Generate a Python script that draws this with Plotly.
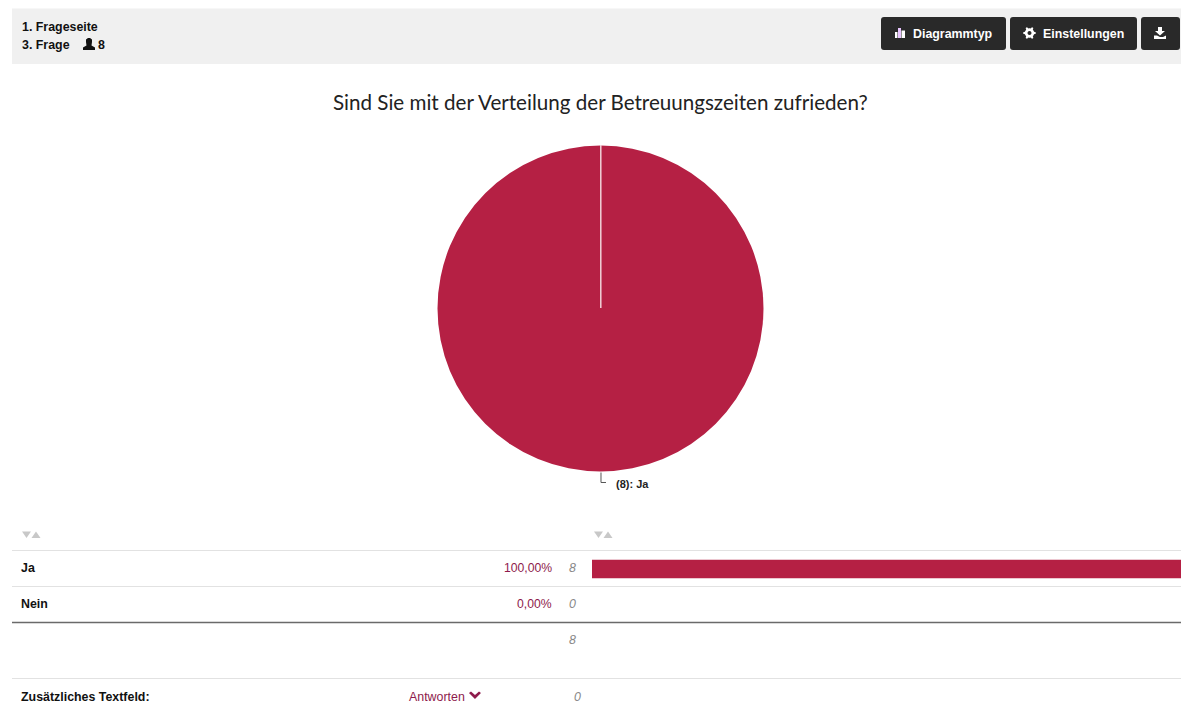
import math
import plotly.graph_objects as go

W, H = 1181, 707

# Survey answers
answers = ["Ja", "Nein"]
counts = [8, 0]
percent = [100.0, 0.0]
total = 8
extra_label = "Zusätzliches Textfeld:"
extra_count = 0
question = "Sind Sie mit der Verteilung der Betreuungszeiten zufrieden?"

RED = "#B52044"
LINK = "#8E1B4C"
FONT = "Liberation Sans, Arial, sans-serif"


def fx(x):
    return x / W


def fy(y):
    return 1 - y / H


def P(x, y):
    return f"{fx(x):.5f},{fy(y):.5f}"


def poly(points):
    return "M" + " L".join(P(x, y) for x, y in points) + " Z"


shapes = []


def rect(x0, y0, x1, y1, color):
    shapes.append(dict(type="rect", xref="paper", yref="paper", x0=fx(x0), x1=fx(x1),
                       y0=fy(y0), y1=fy(y1), fillcolor=color, line_width=0, layer="below"))


def hline(y, color, width, x0=12, x1=W):
    shapes.append(dict(type="line", xref="paper", yref="paper", x0=fx(x0), x1=fx(x1),
                       y0=fy(y), y1=fy(y), line=dict(color=color, width=width)))


def path(d, color):
    shapes.append(dict(type="path", xref="paper", yref="paper", path=d,
                       fillcolor=color, line_width=0))


def rounded(x0, y0, x1, y1, r, color):
    d = (f"M{P(x0 + r, y0)} L{P(x1 - r, y0)} Q{P(x1, y0)} {P(x1, y0 + r)} "
         f"L{P(x1, y1 - r)} Q{P(x1, y1)} {P(x1 - r, y1)} L{P(x0 + r, y1)} "
         f"Q{P(x0, y1)} {P(x0, y1 - r)} L{P(x0, y0 + r)} Q{P(x0, y0)} {P(x0 + r, y0)} Z")
    path(d, color)


def sort_arrows(x):
    path(poly([(x, 531.5), (x + 9, 531.5), (x + 4.5, 538)]), "#C8C8C8")
    path(poly([(x + 9.5, 538), (x + 18.5, 538), (x + 14, 531.5)]), "#C8C8C8")


# Header strip and toolbar buttons
rect(12, 8.5, W, 64, "#F0F0F0")
for x0, x1 in [(881, 1006), (1010, 1137), (1141, 1180)]:
    rounded(x0, 17, x1, 50, 3, "#292929")

# Table rules
hline(550.5, "#E2E2E2", 1)
hline(586.5, "#E2E2E2", 1)
hline(622.5, "#6A6A6A", 1.6)
hline(678.5, "#E2E2E2", 1)

sort_arrows(22)
sort_arrows(594)

# Respondent icon in the header
path(poly([(83, 50), (83, 47.5), (86.5, 45.5), (86, 42), (86, 39.5), (88, 38), (90, 38),
           (92, 39.5), (92, 42), (91.5, 45.5), (95, 47.5), (95, 50)]), "#111111")

# Chart-type icon
for (x0, y0, x1, color) in [(895, 32, 897.5, "#FFFFFF"), (898, 28, 901, "#E9C6FF"),
                            (901.5, 30.5, 905, "#FFFFFF")]:
    rect(x0, y0, x1, 38, color)
    shapes[-1]["layer"] = "above"

# Settings gear
cx, cy = 1029.5, 33
teeth = []
for i in range(48):
    ang = 2 * math.pi * i / 48
    r = 6.3 if ((i + 1) % 8) < 3 else 4.7
    teeth.append((cx + r * math.cos(ang), cy + r * math.sin(ang)))
hole = [(cx + 2 * math.cos(a / 12 * 2 * math.pi), cy + 2 * math.sin(a / 12 * 2 * math.pi))
        for a in range(12)]
path(poly(teeth) + " " + poly(hole[::-1]), "#FFFFFF")

# Download icon
path(poly([(1158, 27), (1162, 27), (1162, 31), (1165, 31), (1160, 35.5), (1155, 31), (1158, 31)]),
     "#FFFFFF")
path(poly([(1154, 35.5), (1157, 35.5), (1160, 37), (1163, 37), (1166, 35.5), (1166, 39), (1154, 39)]),
     "#FFFFFF")

# Chevron next to the answers link
path(poly([(469, 693), (471, 691.5), (475, 695), (479, 691.5), (481, 693), (475, 699)]), LINK)

# Seam at twelve o'clock and leader to the slice label
shapes.append(dict(type="line", xref="paper", yref="paper", x0=fx(600.8), x1=fx(600.8),
                   y0=fy(145), y1=fy(308), line=dict(color="#F4DDE3", width=1.4)))
shapes.append(dict(type="path", xref="paper", yref="paper",
                   path=f"M{P(601, 472.5)} L{P(601, 482.5)} L{P(606, 482.5)}",
                   line=dict(color="#555555", width=1)))


def label(x, y, text, size=12.4, color="#111111", anchor="left", bold=False, italic=False, family=FONT):
    if bold:
        text = f"<b>{text}</b>"
    if italic:
        text = f"<i>{text}</i>"
    # Annotations carry about 2px of internal padding on each side
    offset = {"left": -2, "right": 2, "center": 0}[anchor]
    return dict(xref="paper", yref="paper", x=fx(x + offset), y=fy(y), text=text, showarrow=False,
                xanchor=anchor, yanchor="middle", align=anchor,
                font=dict(family=family, size=size, color=color))


def pct(v):
    return f"{v:.2f}".replace(".", ",") + "%"


rows_y = [567.5, 604]
annotations = [
    label(22, 26.5, "1. Frageseite", bold=True),
    label(22, 45, "3. Frage", bold=True),
    label(98, 45, str(total), bold=True),
    label(913, 33.5, "Diagrammtyp", bold=True, color="#FFFFFF"),
    label(1043, 33.5, "Einstellungen", bold=True, color="#FFFFFF"),
    label(600.5, 102, question, size=20.6, color="#222222", anchor="center", family="Lato, sans-serif"),
    label(616, 484, f"({counts[0]}): {answers[0]}", size=11, bold=True, color="#222222"),
    label(20.5, 696.5, extra_label, bold=True),
    label(409, 696.5, "Antworten", color=LINK),
    label(581, 696.5, str(extra_count), color="#888888", anchor="right", italic=True),
    label(576, 639.5, str(total), color="#888888", anchor="right", italic=True),
]
for name, pc, n, y in zip(answers, percent, counts, rows_y):
    annotations += [
        label(20.5, y, name, bold=True),
        label(552, y, pct(pc), size=12.2, color=LINK, anchor="right"),
        label(576, y, str(n), color="#888888", anchor="right", italic=True),
    ]

fig = go.Figure()
fig.add_trace(go.Pie(
    labels=answers, values=counts, sort=False, direction="clockwise", rotation=0,
    marker=dict(colors=[RED, "#D9D9D9"], line=dict(width=0)),
    textinfo="none", showlegend=False, hoverinfo="label+value",
    domain=dict(x=[fx(437.5), fx(763.5)], y=[fy(471.5), fy(145.5)]),
))
fig.add_trace(go.Bar(
    x=percent, y=answers, orientation="h", width=0.52,
    marker=dict(color=RED, line_width=0), showlegend=False, hoverinfo="x+y",
))
fig.update_layout(
    width=W, height=H, margin=dict(l=0, r=0, t=0, b=0),
    paper_bgcolor="#FFFFFF", plot_bgcolor="rgba(0,0,0,0)",
    shapes=shapes, annotations=annotations,
    xaxis=dict(domain=[fx(592), 1], range=[0, 100], visible=False, fixedrange=True),
    yaxis=dict(domain=[fy(623), fy(551)], autorange="reversed", visible=False, fixedrange=True),
)
fig.write_html("out.html", config=dict(displayModeBar=False))
